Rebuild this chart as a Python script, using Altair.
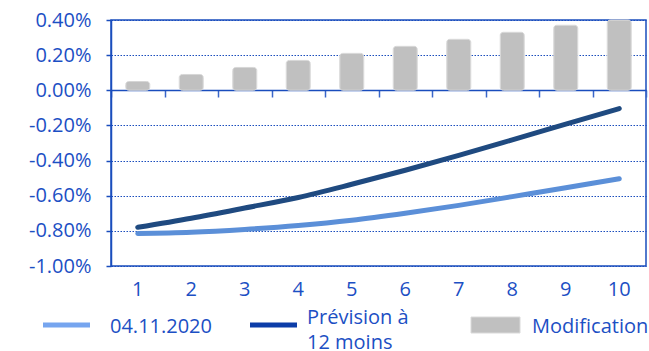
import altair as alt
import pandas as pd

categories = [1, 2, 3, 4, 5, 6, 7, 8, 9, 10]
modification = [0.05, 0.09, 0.13, 0.17, 0.21, 0.25, 0.29, 0.33, 0.37, 0.41]
current = [-0.815, -0.808, -0.792, -0.770, -0.740, -0.700, -0.655, -0.605, -0.555, -0.503]
forecast = [-0.780, -0.728, -0.670, -0.610, -0.535, -0.455, -0.370, -0.282, -0.193, -0.104]
y_ticks = [-1.0, -0.8, -0.6, -0.4, -0.2, 0.0, 0.2, 0.4]

TXT = "#1c4fc4"
BLUE = "#1a4dbd"
LIGHT = "#5b8fd8"
DARK = "#1f4a80"
GRAY = "#c0c0c0"
FONT = "Open Sans"
FS = 20

bars_df = pd.DataFrame({"cat": categories, "val": modification})
lines_df = pd.DataFrame({
    "cat": categories * 2,
    "val": current + forecast,
    "series": ["04.11.2020"] * 10 + ["Prévision à 12 moins"] * 10,
})

xscale = alt.Scale(paddingInner=0, paddingOuter=0)
yscale = alt.Scale(domain=[-1.0, 0.4], nice=False, zero=False, clamp=True)

label_expr = "(datum.value < -0.0001 ? '-' : '') + format(abs(datum.value), '.2f') + '%'"

yaxis = alt.Axis(
    values=y_ticks, labelExpr=label_expr, title=None,
    grid=True, gridColor=BLUE, gridDash=[1.5, 1.5], gridWidth=1,
    domain=True, domainColor=BLUE, domainWidth=1.5,
    ticks=True, tickColor=BLUE, tickSize=5, tickWidth=1.5,
    labelPadding=15, labelFontSize=FS, labelColor=TXT, labelFont=FONT)

bars = alt.Chart(bars_df).mark_bar(
    size=24, cornerRadius=3, stroke="#d6d6d6", strokeWidth=1
).encode(
    x=alt.X("cat:O", scale=xscale, axis=alt.Axis(
        orient="bottom", offset=-176, labels=False, title=None,
        domain=True, domainColor=BLUE, domainWidth=1.5,
        ticks=True, tickColor="#3a66c8", tickWidth=1.5, tickSize=7,
        tickBand="extent", grid=False)),
    y=alt.Y("val:Q", scale=yscale, axis=yaxis),
    color=alt.value(GRAY),
    fill=alt.value(GRAY),
)

lines = alt.Chart(lines_df).mark_line(
    strokeWidth=5, strokeCap="round", interpolate="monotone"
).encode(
    x=alt.X("cat:O", scale=xscale, axis=alt.Axis(
        orient="bottom", domain=False, ticks=False, tickSize=0, title=None,
        labelAngle=0, labelPadding=13, labelFontSize=FS, labelColor=TXT,
        labelFont=FONT, grid=False)),
    y=alt.Y("val:Q", scale=yscale, axis=yaxis),
    color=alt.Color("series:N", scale=alt.Scale(
        domain=["04.11.2020", "Prévision à 12 moins"], range=[LIGHT, DARK]),
        legend=None),
)

# manual legend
leg_light = alt.Chart(bars_df.head(1)).mark_rule(
    color="#76a5ef", strokeWidth=5).encode(
    x=alt.value(-68), x2=alt.value(-21), y=alt.value(305))
leg_dark = alt.Chart(bars_df.head(1)).mark_rule(
    color="#0c3da8", strokeWidth=5).encode(
    x=alt.value(139), x2=alt.value(186), y=alt.value(305))
leg_bar = alt.Chart(bars_df.head(1)).mark_rect(
    stroke="#dadada", strokeWidth=1).encode(
    x=alt.value(360), x2=alt.value(409), y=alt.value(297), y2=alt.value(313),
    fill=alt.value(GRAY))


def ltxt(s, x, y):
    return alt.Chart(bars_df.head(1)).mark_text(
        text=s, align="left", baseline="alphabetic", fontSize=FS,
        font=FONT, color=TXT).encode(x=alt.value(x), y=alt.value(y))


chart = alt.layer(
    bars, lines, leg_light, leg_dark, leg_bar,
    ltxt("04.11.2020", -1, 313),
    ltxt("Prévision à", 196, 304),
    ltxt("12 moins", 196, 329),
    ltxt("Modification", 421, 313),
).resolve_axis(x="independent").properties(
    width=535, height=246,
    background="white",
    autosize=alt.AutoSizeParams(type="none"),
    padding={"left": 111, "top": 20, "right": 3, "bottom": 85},
).configure_view(
    stroke=BLUE, strokeWidth=1.5
)

chart.save("out.html", embed_options={"renderer": "svg", "actions": False})
